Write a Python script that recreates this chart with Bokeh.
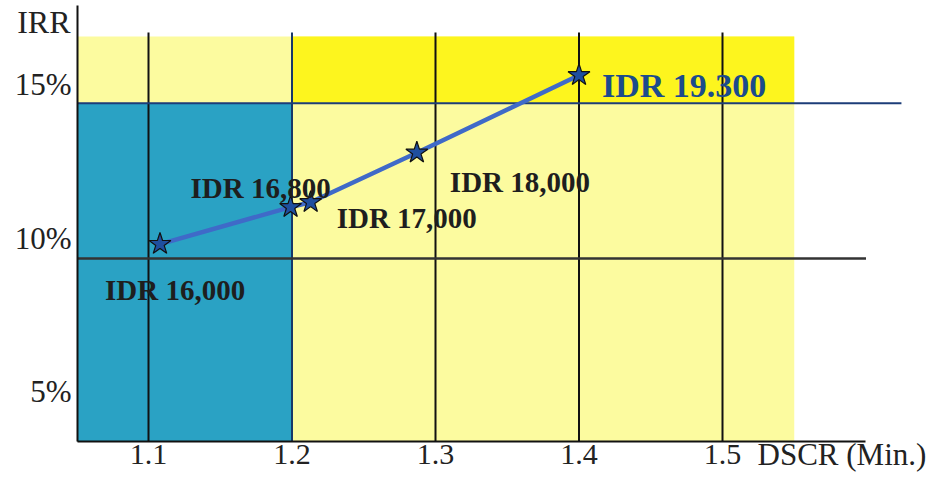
from bokeh.plotting import figure
from bokeh.models import Range1d, FixedTicker, Label, ColumnDataSource
from bokeh.embed import file_html
from bokeh.resources import INLINE
from bokeh.core.properties import value

# ---- data ----
dscr = [1.108, 1.199, 1.213, 1.287, 1.400]
irr = [9.81, 11.01, 11.17, 12.78, 15.30]
price_labels = ["IDR 16,000", "IDR 16,800", "IDR 17,000", "IDR 18,000", "IDR 19.300"]
x_ticks = [1.1, 1.2, 1.3, 1.4, 1.5]
x_tick_labels = ["1.1", "1.2", "1.3", "1.4", "1.5"]
y_ticks = [5, 10, 15]
y_tick_labels = ["5%", "10%", "15%"]
dscr_threshold = 1.2
irr_threshold = 14.39
irr_line2 = 9.34

# ---- layout constants ----
X0, X1 = 0.99686, 1.64913      # full canvas width
Y0, Y1 = 2.3154, 17.730        # full canvas height
AX_X = 1.05052                 # y axis location
AX_Y = 3.376                   # x axis location
ZONE_RIGHT = 1.55
ZONE_TOP = 16.563
GRID_TOP = 16.69

SERIF = value("Liberation Serif")

p = figure(width=936, height=474, x_range=Range1d(X0, X1), y_range=Range1d(Y0, Y1),
           output_backend="svg", toolbar_location=None,
           min_border_left=0, min_border_right=0, min_border_top=0, min_border_bottom=0,
           background_fill_color="white", border_fill_color="white", outline_line_color=None)
p.grid.visible = False

# background zones
p.quad(left=[AX_X], right=[ZONE_RIGHT], bottom=[AX_Y], top=[ZONE_TOP],
       fill_color="#fcfb9f", line_color=None)
p.quad(left=[AX_X], right=[dscr_threshold], bottom=[AX_Y], top=[irr_threshold],
       fill_color="#2aa2c4", line_color=None)
p.quad(left=[dscr_threshold], right=[ZONE_RIGHT], bottom=[irr_threshold], top=[ZONE_TOP],
       fill_color="#fdf51e", line_color=None)

# vertical grid lines
vcols = ["#111111" if t != dscr_threshold else "#17386a" for t in x_ticks]
p.segment(x0=x_ticks, y0=[AX_Y] * len(x_ticks), x1=x_ticks, y1=[GRID_TOP] * len(x_ticks),
          line_color=vcols, line_width=2)
# horizontal lines
p.segment(x0=[AX_X], y0=[irr_threshold], x1=[1.6247], y1=[irr_threshold],
          line_color="#1c3d78", line_width=2)
p.segment(x0=[AX_X], y0=[irr_line2], x1=[1.6], y1=[irr_line2],
          line_color="#333333", line_width=2.5)

# data line & stars
p.line(dscr, irr, line_color="#3f6ac8", line_width=4.5)
p.scatter(dscr, irr, marker="star", size=23, fill_color="#1f4f9f",
          line_color="#111111", line_width=1.2)

# price labels
src = ColumnDataSource(dict(
    x=dscr, y=irr, text=price_labels,
    dx=[-55, -100, 26, 33, 23],
    dy=[46, -19, 16, 29, 10],
    color=["#1e1e1e", "#1e1e1e", "#1e1e1e", "#1e1e1e", "#1b4b8c"],
    size=["29px", "29px", "29px", "29px", "34px"],
))
p.text(x="x", y="y", text="text", x_offset="dx", y_offset="dy", source=src,
       text_font=SERIF, text_font_style="bold", text_font_size="size",
       text_color="color", text_align="left", text_baseline="alphabetic")

# axes
xa = p.xaxis[0]
xa.fixed_location = AX_Y
xa.bounds = (AX_X, 1.6)
xa.ticker = FixedTicker(ticks=x_ticks)
xa.major_label_overrides = {t: l for t, l in zip(x_ticks, x_tick_labels)}
xa.axis_line_width = 2
xa.axis_line_color = "#111111"
xa.major_tick_in = 0
xa.major_tick_out = 0
xa.minor_tick_in = 0
xa.minor_tick_out = 0
xa.major_label_standoff = 3
xa.major_label_text_font = "Liberation Serif"
xa.major_label_text_font_size = "30px"
xa.major_label_text_color = "#222222"

ya = p.yaxis[0]
ya.fixed_location = AX_X
ya.bounds = (AX_Y, 17.57)
ya.ticker = FixedTicker(ticks=y_ticks)
ya.major_label_overrides = {t: l for t, l in zip(y_ticks, y_tick_labels)}
ya.axis_line_width = 2
ya.axis_line_color = "#111111"
ya.major_tick_in = 0
ya.major_tick_out = 0
ya.minor_tick_in = 0
ya.minor_tick_out = 0
ya.major_label_standoff = 6
ya.major_label_text_font = "Liberation Serif"
ya.major_label_text_font_size = "31px"
ya.major_label_text_color = "#222222"

# axis titles
p.add_layout(Label(x=1.04564, y=17.03, text="IRR", text_align="right",
                   text_baseline="alphabetic", text_font="Liberation Serif",
                   text_font_size="32px", text_color="#222222"))
p.add_layout(Label(x=1.5244, y=2.96, text="DSCR (Min.)", text_align="left",
                   text_baseline="alphabetic", text_font="Liberation Serif",
                   text_font_size="31px", text_color="#222222"))

open("out.html", "w").write(file_html(p, INLINE))
